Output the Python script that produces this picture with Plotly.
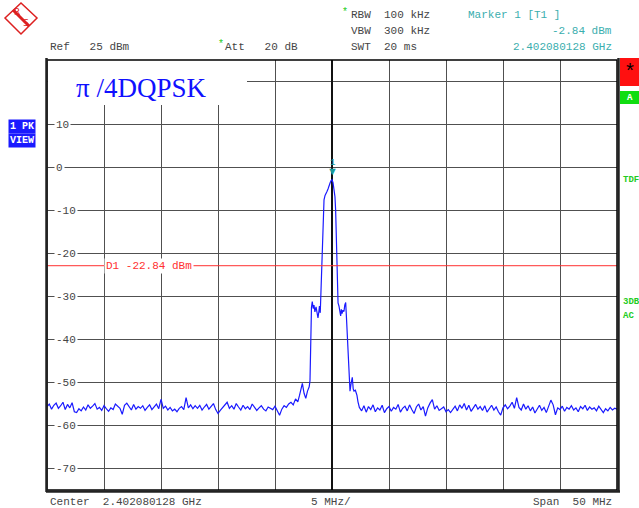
import numpy as np
import plotly.graph_objects as go

# spectrum trace, offset from center frequency in MHz / level in dBm
left_start, left_step = -25.0, 0.2
left_noise = [
    -55.6, -55.0, -56.2, -55.3, -54.8, -56.0, -55.4, -54.6, -56.3, -55.1,
    -55.9, -54.7, -56.8, -57.0, -56.1, -56.6, -55.7, -56.4, -55.2, -56.0,
    -55.5, -54.9, -56.2, -55.8, -56.5, -55.4, -56.1, -56.7, -55.9, -56.3,
    -55.0, -55.6, -56.0, -57.4, -55.3, -54.8, -55.7, -56.4, -55.1, -56.2,
    -55.6, -56.0, -55.4, -56.5, -55.8, -55.2, -56.3, -55.6, -55.0, -56.1,
    -53.9, -56.0, -55.5, -56.4, -55.8, -56.6, -56.2, -56.8, -56.0, -55.6,
    -56.3, -53.5, -55.9, -55.2, -56.1, -55.4, -56.0, -55.3, -56.4, -55.7,
    -55.1, -56.2, -55.6, -54.9, -56.3, -57.2, -56.5, -55.8, -55.2, -54.6,
    -56.0, -55.4, -56.2, -54.9, -55.7, -56.4, -55.3, -56.1, -55.6, -56.3,
    -55.0, -55.8, -56.5, -55.9, -55.4, -56.2, -56.6, -55.7, -56.0, -56.3,
    -55.5, -56.4, -57.6, -56.2, -55.4, -55.8, -55.0, -54.6, -55.2, -53.8,
]
signal_freq = [
    -3.0, -2.85, -2.7, -2.6, -2.45, -2.3, -2.15, -2.0, -1.93, -1.87,
    -1.8, -1.73, -1.65, -1.58, -1.5, -1.4, -1.3, -1.23, -1.15, -1.1,
    -1.03, -0.99, -0.9, -0.79, -0.7, -0.61, -0.53, -0.44, -0.35, -0.26,
    -0.17, -0.09, 0.0, 0.09, 0.18, 0.26, 0.32, 0.4, 0.46, 0.53,
    0.61, 0.68, 0.76, 0.82, 0.88, 0.96, 1.05, 1.12, 1.2, 1.27,
    1.34, 1.42, 1.49, 1.58, 1.66, 1.78, 1.86, 1.93, 2.05, 2.19, 2.28,
]
signal_level = [
    -54.5, -53.0, -51.5, -50.2, -52.5, -53.7, -52.0, -51.0, -49.5, -38.0,
    -32.5, -31.2, -32.8, -32.0, -33.6, -32.4, -34.2, -35.0, -33.5, -32.2,
    -33.8, -30.5, -19.5, -10.5, -7.5, -6.5, -5.8, -5.6, -5.0, -4.0,
    -3.6, -3.1, -2.84, -3.5, -5.6, -6.8, -10.0, -18.0, -29.0, -31.5,
    -32.2, -34.0, -34.5, -33.0, -34.0, -33.2, -33.5, -32.0, -31.4, -35.0,
    -39.5, -45.0, -49.5, -52.0, -50.5, -48.8, -51.5, -52.0, -51.8, -53.0, -54.5,
]
right_start, right_step = 2.4, 0.2
right_noise = [
    -55.8, -56.6, -55.4, -56.9, -55.6, -56.3, -55.2, -56.8, -55.9, -56.4,
    -55.3, -57.0, -56.1, -55.6, -56.7, -55.8, -56.2, -55.1, -56.9, -56.0,
    -55.5, -56.6, -55.2, -56.3, -57.2, -55.7, -55.0, -56.4, -55.6, -57.8,
    -55.9, -54.8, -54.0, -56.2, -55.4, -56.5, -56.0, -55.7, -56.8, -56.3,
    -57.0, -56.1, -55.5, -56.6, -55.2, -56.0, -54.9, -56.4, -55.3, -56.7,
    -55.8, -55.1, -56.2, -55.6, -56.5, -55.4, -56.9, -56.0, -55.3, -56.4,
    -55.7, -56.8, -57.6, -55.9, -55.2, -56.1, -55.5, -54.6, -56.0, -53.5,
    -55.8, -56.4, -55.0, -56.2, -55.4, -56.6, -55.7, -57.1, -56.0, -55.3,
    -56.5, -55.8, -57.0, -55.6, -54.1, -55.2, -57.5, -55.9, -56.3, -55.5,
    -56.7, -55.8, -56.2, -55.4, -56.4, -55.9, -56.8, -55.6, -56.1, -55.3,
    -56.5, -55.7, -56.2, -55.9, -56.6, -55.5, -56.3, -57.0, -56.1, -56.6,
    -55.8, -56.4, -56.0, -56.2,
]
y_tick_labels = [10, 0, -10, -20, -30, -40, -50, -60, -70]
marker_freq, marker_level = 0.0, -2.84
display_line = -22.84

freq = np.concatenate([
    left_start + left_step * np.arange(len(left_noise)),
    signal_freq,
    right_start + right_step * np.arange(len(right_noise)),
])
level = np.concatenate([left_noise, signal_level, right_noise])

MONO = "Liberation Mono, Courier New, monospace"
GREY = "#454545"
TEAL = "#3aaeae"


def px(x):  # pixel -> paper
    return (x - 47) / 570


def py(y):
    return (490 - y) / 430


fig = go.Figure()
fig.add_trace(go.Scatter(x=freq, y=level, mode="lines",
                         line=dict(color="#1a1aff", width=1.2), hoverinfo="skip"))

shapes = [
    # display line D1
    dict(type="line", xref="paper", yref="y", x0=0, x1=1, y0=display_line, y1=display_line,
         line=dict(color="#ff3030", width=1)),
    # title box
    dict(type="rect", xref="paper", yref="paper", x0=px(48), x1=px(247), y0=py(105), y1=py(60),
         fillcolor="white", line=dict(width=0), layer="above"),
    # frame
    dict(type="rect", xref="paper", yref="paper", x0=0, x1=1, y0=0, y1=1,
         line=dict(color="black", width=1.5), layer="above"),
    dict(type="line", xref="paper", yref="paper", x0=px(46.5), x1=px(46.5), y0=py(492), y1=py(58),
         line=dict(color="#222", width=2.5), layer="above"),
    dict(type="line", xref="paper", yref="paper", x0=px(618.5), x1=px(618.5), y0=py(492), y1=py(58),
         line=dict(color="#222", width=2.5), layer="above"),
    dict(type="line", xref="paper", yref="paper", x0=px(46), x1=px(620), y0=py(491.5), y1=py(491.5),
         line=dict(color="#222", width=2.5), layer="above"),
    # right side status boxes
    dict(type="rect", xref="paper", yref="paper", x0=px(620), x1=px(639), y0=py(86), y1=py(58),
         fillcolor="#ff1010", line=dict(width=0), layer="above"),
    dict(type="rect", xref="paper", yref="paper", x0=px(620), x1=px(639), y0=py(104), y1=py(91),
         fillcolor="#11dd11", line=dict(width=0), layer="above"),
    # R&S logo
    dict(type="path", xref="paper", yref="paper",
         path=f"M {px(21)},{py(3)} L {px(37)},{py(18)} L {px(21)},{py(34)} L {px(5)},{py(18)} Z",
         line=dict(color="#dd2020", width=1.5), layer="above"),
    dict(type="line", xref="paper", yref="paper", x0=px(13), x1=px(29), y0=py(10), y1=py(26),
         line=dict(color="#dd2020", width=3), layer="above"),
]

ann = []


def text(x, y, s, color=GREY, size=11, anchor="left", family=MONO, **kw):
    ann.append(dict(x=px(x), y=py(y), xref="paper", yref="paper", text=s, showarrow=False,
                    xanchor=anchor, yanchor="middle", font=dict(family=family, size=size, color=color), **kw))


# header
text(48, 47, "Ref   25 dBm")
text(216, 45, "*", color="#22cc22", size=10)
text(223, 47, "Att   20 dB")
text(340, 13, "*", color="#22cc22", size=10)
text(349, 15, "RBW  100 kHz")
text(349, 31, "VBW  300 kHz")
text(349, 47, "SWT  20 ms")
text(466, 15, "Marker 1 [T1 ]", color=TEAL)
text(614, 31, "-2.84 dBm", color=TEAL, anchor="right")
text(614, 47, "2.402080128 GHz", color=TEAL, anchor="right")
# footer
text(48, 502, "Center  2.402080128 GHz")
text(309, 502, "5 MHz/")
text(614, 502, "Span  50 MHz", anchor="right")
# y labels inside plot
for v in y_tick_labels:
    ann.append(dict(x=px(54), y=v, xref="paper", yref="y", text=str(v), showarrow=False,
                    xanchor="left", yanchor="middle", bgcolor="white", borderpad=1,
                    font=dict(family=MONO, size=11, color=GREY)))
# D1 label
ann.append(dict(x=px(104), y=display_line, xref="paper", yref="y", text="D1 -22.84 dBm",
                showarrow=False, xanchor="left", yanchor="middle", bgcolor="white", borderpad=1,
                font=dict(family=MONO, size=11, color="#ff3030")))
# title
text(74, 88, "\u03c0 /4DQPSK", color="#1010ff", size=27, family="Liberation Serif, Times New Roman, serif")
# left side boxes
text(8, 126, "<b>1 PK</b>", color="white", size=10, bgcolor="#1a1aff", borderpad=1)
text(8, 140, "<b>VIEW</b>", color="white", size=10, bgcolor="#1a1aff", borderpad=1)
# right side
text(629.5, 72, "*", color="black", size=20, anchor="center")
text(629.5, 97.5, "<b>A</b>", color="white", size=9, anchor="center")
text(621, 180, "<b>TDF</b>", color="#22cc22", size=9)
text(621, 302, "<b>3DB</b>", color="#22cc22", size=9)
text(621, 316, "<b>AC</b>", color="#22cc22", size=9)
# logo letters
text(17, 12, "R", color="#dd2020", size=9, anchor="center", family="DejaVu Sans")
text(26, 23, "S", color="#dd2020", size=9, anchor="center", family="DejaVu Sans")
# marker
ann.append(dict(x=marker_freq, y=marker_level, text="\u25bc", showarrow=False, yanchor="bottom",
                yshift=0, font=dict(size=11, color="#1a9a9a")))
ann.append(dict(x=marker_freq, y=marker_level, text="1", showarrow=False, yanchor="bottom",
                yshift=10, font=dict(family=MONO, size=9, color="#1a9a9a")))

fig.update_layout(
    width=639, height=508,
    margin=dict(l=47, r=22, t=60, b=18),
    paper_bgcolor="white", plot_bgcolor="white",
    showlegend=False,
    xaxis=dict(range=[-25, 25], tick0=0, dtick=5, showticklabels=False, ticks="",
               showgrid=True, gridcolor="#505050", gridwidth=1, zeroline=True,
               zerolinecolor="#111", zerolinewidth=1.5, fixedrange=True),
    yaxis=dict(range=[-75, 25], tick0=0, dtick=10, showticklabels=False, ticks="",
               showgrid=True, gridcolor="#505050", gridwidth=1, zeroline=False, fixedrange=True),
    shapes=shapes,
    annotations=ann,
)

# the page body has a default 8px margin; drop it so the figure sits at the window origin
fig.write_html("out.html", config={"displayModeBar": False},
               post_script="document.body.style.margin='0px';")
